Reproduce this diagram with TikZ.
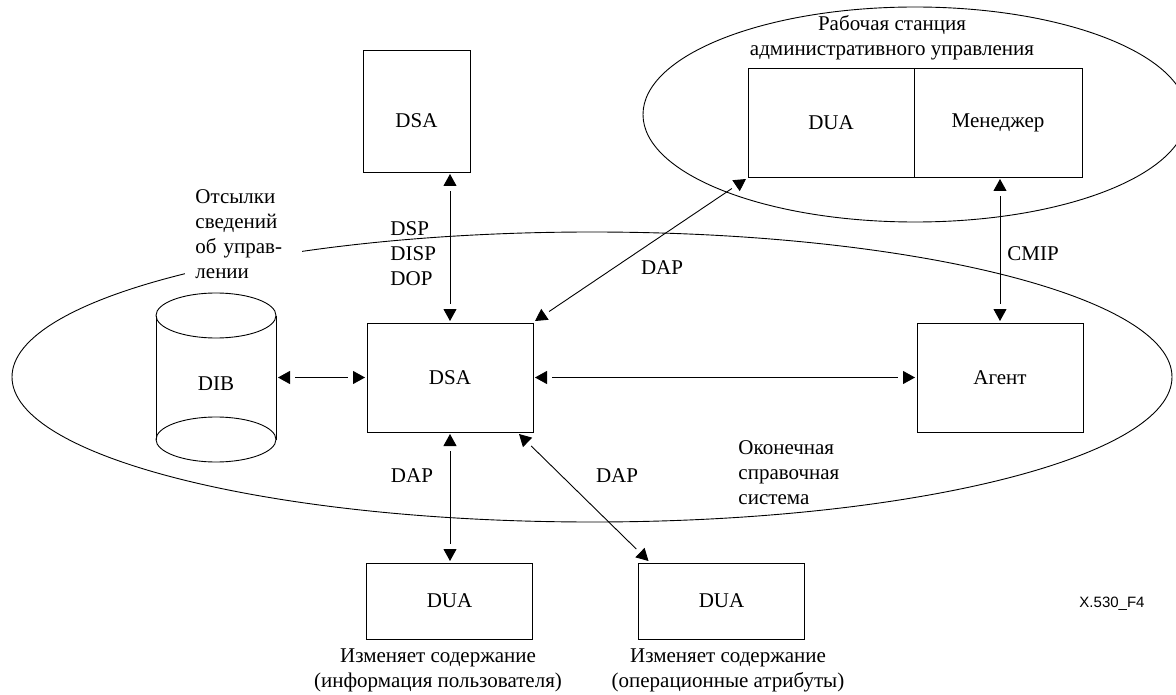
\documentclass[tikz,border=0pt]{standalone}
\usepackage{fontspec}
\setmainfont{Liberation Serif}
\newfontfamily\figfont{Liberation Sans}
\usetikzlibrary{arrows.meta, decorations.markings}

\begin{document}
\begin{tikzpicture}[x=1pt,y=-1pt,line width=0.9pt,font=\fontsize{21}{25}\selectfont]
                \tikzset{box/.style={draw, minimum width=166pt, minimum height=109pt, outer sep=2pt, inner sep=0pt},
                         lbl/.style={inner sep=0pt},
                         dbl/.style={shorten <=17pt, shorten >=17pt, postaction={decorate},
                             decoration={markings,
                                 mark=at position 0 with {\arrowreversed{Triangle[length=12pt,width=13pt]}},
                                 mark=at position 1 with {\arrow{Triangle[length=12pt,width=13pt]}}}}}
                \useasboundingbox (0,0) rectangle (1176,695);
                % the two systems
                \draw (592,377) ellipse [x radius=580pt, y radius=145pt];
                \draw (915,114.5) ellipse [x radius=272pt, y radius=107.5pt];
                \node[align=center, lbl] (ws) at (892,37.5) {Рабочая станция\\административного управления};
                \node[anchor=west, align=left, text width=97pt, inner xsep=10pt, inner ysep=4pt, fill=white] (refs) at (185,234.5) {Отсылки\\сведений\\об управ-\\лении};
                \node[anchor=west, align=left, lbl] (eds) at (738,472.5) {Оконечная\\справочная\\система};
                % boxes
                \node[box, minimum width=107pt, minimum height=122pt, text height=34pt] (dsat) at (416.5,111) {DSA};
                \node[box] (duaw) at (831,122.5) {DUA};
                \node[box, minimum width=168pt] (mgr) at (998,122.5) {Менеджер};
                \node[box] (dsa) at (450,377.5) {DSA};
                \node[box] (agent) at (1000,377.5) {Агент};
                \node[box, minimum height=76pt] (dual) at (449.5,601) {DUA};
                \node[box, minimum height=76pt] (duar) at (721.5,601) {DUA};
                % DIB
                \node[minimum width=120pt, minimum height=169pt, outer sep=2pt] (dib) at (216,377.5) {};
                \draw (216,315.5) ellipse [x radius=60pt, y radius=22.5pt];
                \draw (216,439.5) ellipse [x radius=60pt, y radius=22.5pt];
                \draw (156,315.5) -- (156,439.5) (276,315.5) -- (276,439.5);
                \node[lbl] (dibl) at (216,384) {DIB};
                % links
                \path (dib) edge[dbl] (dsa);
                \path (dsa) edge[dbl] (agent);
                \path (dsa.north) edge[dbl] (dsa.north |- dsat.south);
                \path (agent.north) edge[dbl] (agent.north |- mgr.south);
                \path (dsa.north east) edge[dbl] (duaw.south west);
                \path (dsa.south) edge[dbl] (dsa.south |- dual.north);
                \path ([xshift=-16pt]dsa.south east) edge[dbl] ([xshift=12pt]duar.north west);
                \node[anchor=west, align=left, lbl] (protos) at (390,253.5) {DSP\\DISP\\DOP};
                \node[lbl] (dap1) at (662,268) {DAP};
                \node[lbl] (cmip) at (1033,254) {CMIP};
                \node[lbl] (dap2) at (412,476) {DAP};
                \node[lbl] (dap3) at (617,476) {DAP};
                \node[align=center, lbl] (modl) at (438,670) {Изменяет содержание\\(информация пользователя)};
                \node[align=center, lbl] (modr) at (728,670) {Изменяет содержание\\(операционные атрибуты)};
                \node[lbl, font=\figfont\fontsize{15}{18}\selectfont] (fig) at (1112,604) {X.530\_F4};
            \end{tikzpicture}
\end{document}
